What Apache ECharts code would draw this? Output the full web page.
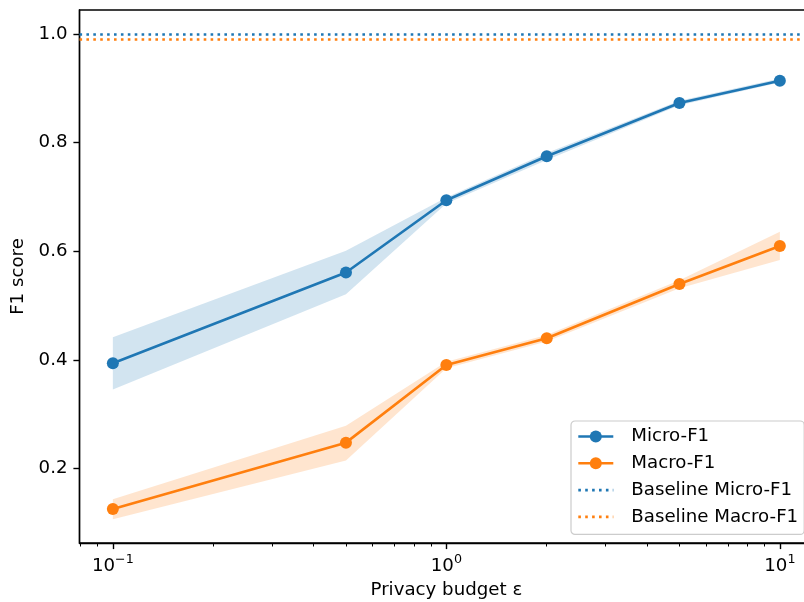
<!DOCTYPE html>
<html>
<head>
<meta charset="utf-8">
<script src="https://cdn.jsdelivr.net/npm/echarts@6/dist/echarts.min.js"></script>
<style>
  html, body { margin: 0; padding: 0; background: #fff; }
  #chart { width: 804px; height: 602px; }
</style>
</head>
<body>
<div id="chart"></div>
<script>
// Privacy budget values (log-scaled x axis)
const epsilons = [0.1, 0.5, 1, 2, 5, 10];

// Mean F1 scores
const microF1 = [0.394, 0.561, 0.694, 0.775, 0.873, 0.914];
const macroF1 = [0.126, 0.248, 0.391, 0.440, 0.540, 0.610];

// Spread across runs (lower / upper envelope)
const microLow  = [0.346, 0.521, 0.688, 0.768, 0.869, 0.911];
const microHigh = [0.442, 0.601, 0.699, 0.781, 0.877, 0.918];
const macroLow  = [0.107, 0.215, 0.385, 0.434, 0.532, 0.584];
const macroHigh = [0.144, 0.279, 0.397, 0.446, 0.547, 0.636];

// Non-private baselines
const baselineMicro = 1.0;
const baselineMacro = 0.989;

// Axis ticks
const yTicks = [0.2, 0.4, 0.6, 0.8, 1.0];
const xMajorTicks = [0.1, 1, 10];
const xMinorTicks = [0.08, 0.09, 0.2, 0.3, 0.4, 0.5, 0.6, 0.7, 0.8, 0.9,
                     2, 3, 4, 5, 6, 7, 8, 9];

const C0 = '#1f77b4';
const C1 = '#ff7f0e';
const FONT = 'DejaVu Sans';
const FS = 18.2;

function bandSeries(low, high, fill) {
  return {
    type: 'custom',
    silent: true,
    z: 1,
    data: epsilons.map((x, i) => [x, low[i], high[i]]),
    encode: { x: 0, y: [1, 2] },
    renderItem: function (params, api) {
      if (params.dataIndex !== 0) return null;
      const upper = epsilons.map((x, i) => api.coord([x, high[i]]));
      const lower = epsilons.map((x, i) => api.coord([x, low[i]])).reverse();
      return {
        type: 'polygon',
        shape: { points: upper.concat(lower) },
        style: { fill: fill }
      };
    }
  };
}

function meanSeries(name, values, color) {
  return {
    name: name,
    type: 'line',
    z: 3,
    data: epsilons.map((x, i) => [x, values[i]]),
    symbol: 'circle',
    symbolSize: 12,
    itemStyle: { color: color },
    lineStyle: { color: color, width: 2.6 }
  };
}

function baselineSeries(name, value, color) {
  return {
    name: name,
    type: 'line',
    z: 2,
    data: [],
    symbol: 'none',
    itemStyle: { color: color },
    lineStyle: { color: color, width: 2.6, type: [2.6, 4.3], cap: 'butt' },
    markLine: {
      silent: true,
      symbol: ['none', 'none'],
      label: { show: false },
      lineStyle: { color: color, width: 2.6, type: [2.6, 4.3], cap: 'butt' },
      data: [{ yAxis: value }]
    }
  };
}

const chart = echarts.init(document.getElementById('chart'), null, { renderer: 'canvas' });
chart.setOption({
  animation: false,
  backgroundColor: '#ffffff',
  textStyle: { fontFamily: FONT },
  grid: {
    left: 79.5, top: 10, width: 733.7, height: 533,
    containLabel: false,
    outerBoundsMode: 'none',
    show: true, borderColor: '#000', borderWidth: 1.4, backgroundColor: 'transparent'
  },
  legend: {
    orient: 'vertical',
    left: 571, top: 421,
    padding: [6.5, 6, 8.5, 6],
    itemWidth: 35, itemHeight: 15, itemGap: 8.8,
    backgroundColor: 'rgba(255,255,255,0.8)',
    borderColor: '#cccccc', borderWidth: 1.2, borderRadius: 4,
    lineStyle: { width: 2.6 },
    data: [
      'Micro-F1',
      'Macro-F1',
      { name: 'Baseline Micro-F1', itemStyle: { opacity: 0 } },
      { name: 'Baseline Macro-F1', itemStyle: { opacity: 0 } }
    ],
    textStyle: { fontFamily: FONT, fontSize: FS, color: '#000', padding: [0, 0, 0, 13] }
  },
  xAxis: [
    {
      type: 'log', logBase: 10,
      min: Math.pow(10, -1.1), max: Math.pow(10, 1.1),
      position: 'bottom',
      name: 'Privacy budget \u03B5',
      nameLocation: 'middle', nameGap: 38,
      nameTextStyle: { fontFamily: FONT, fontSize: FS, color: '#000' },
      axisLine: { show: true, lineStyle: { color: '#000', width: 1.4 } },
      axisTick: { show: true, customValues: xMajorTicks, length: 6.1,
                  lineStyle: { color: '#000', width: 1.4 } },
      axisLabel: {
        customValues: xMajorTicks, margin: 10,
        formatter: function (v) {
          const e = String(Math.round(Math.log10(v)));
          return '{b|10}{s|' + e.replace('-', '\u2212') + '}';
        },
        rich: {
          b: { fontFamily: FONT, fontSize: FS, color: '#000', lineHeight: 22, verticalAlign: 'bottom' },
          s: { fontFamily: FONT, fontSize: 12.7, color: '#000', lineHeight: 12, verticalAlign: 'top' }
        }
      },
      splitLine: { show: false }
    },
    {
      type: 'log', logBase: 10,
      min: Math.pow(10, -1.1), max: Math.pow(10, 1.1),
      position: 'bottom',
      axisLine: { show: false },
      axisLabel: { show: false },
      axisTick: { show: true, customValues: xMinorTicks, length: 3.5,
                  lineStyle: { color: '#000', width: 1.05 } },
      splitLine: { show: false }
    }
  ],
  yAxis: {
    type: 'value',
    min: 0.0633, max: 1.0442,
    name: 'F1 score',
    nameLocation: 'middle', nameGap: 50, nameRotate: 90,
    nameTextStyle: { fontFamily: FONT, fontSize: FS, color: '#000' },
    axisLine: { show: true, lineStyle: { color: '#000', width: 1.4 } },
    axisTick: { show: true, customValues: yTicks, length: 6.1,
                lineStyle: { color: '#000', width: 1.4 } },
    axisLabel: {
      customValues: yTicks, margin: 12,
      fontFamily: FONT, fontSize: FS, color: '#000',
      formatter: function (v) { return v.toFixed(1); }
    },
    splitLine: { show: false }
  },
  series: [
    bandSeries(microLow, microHigh, 'rgba(31,119,180,0.2)'),
    bandSeries(macroLow, macroHigh, 'rgba(255,127,14,0.2)'),
    meanSeries('Micro-F1', microF1, C0),
    meanSeries('Macro-F1', macroF1, C1),
    baselineSeries('Baseline Micro-F1', baselineMicro, C0),
    baselineSeries('Baseline Macro-F1', baselineMacro, C1)
  ]
});
</script>
</body>
</html>
